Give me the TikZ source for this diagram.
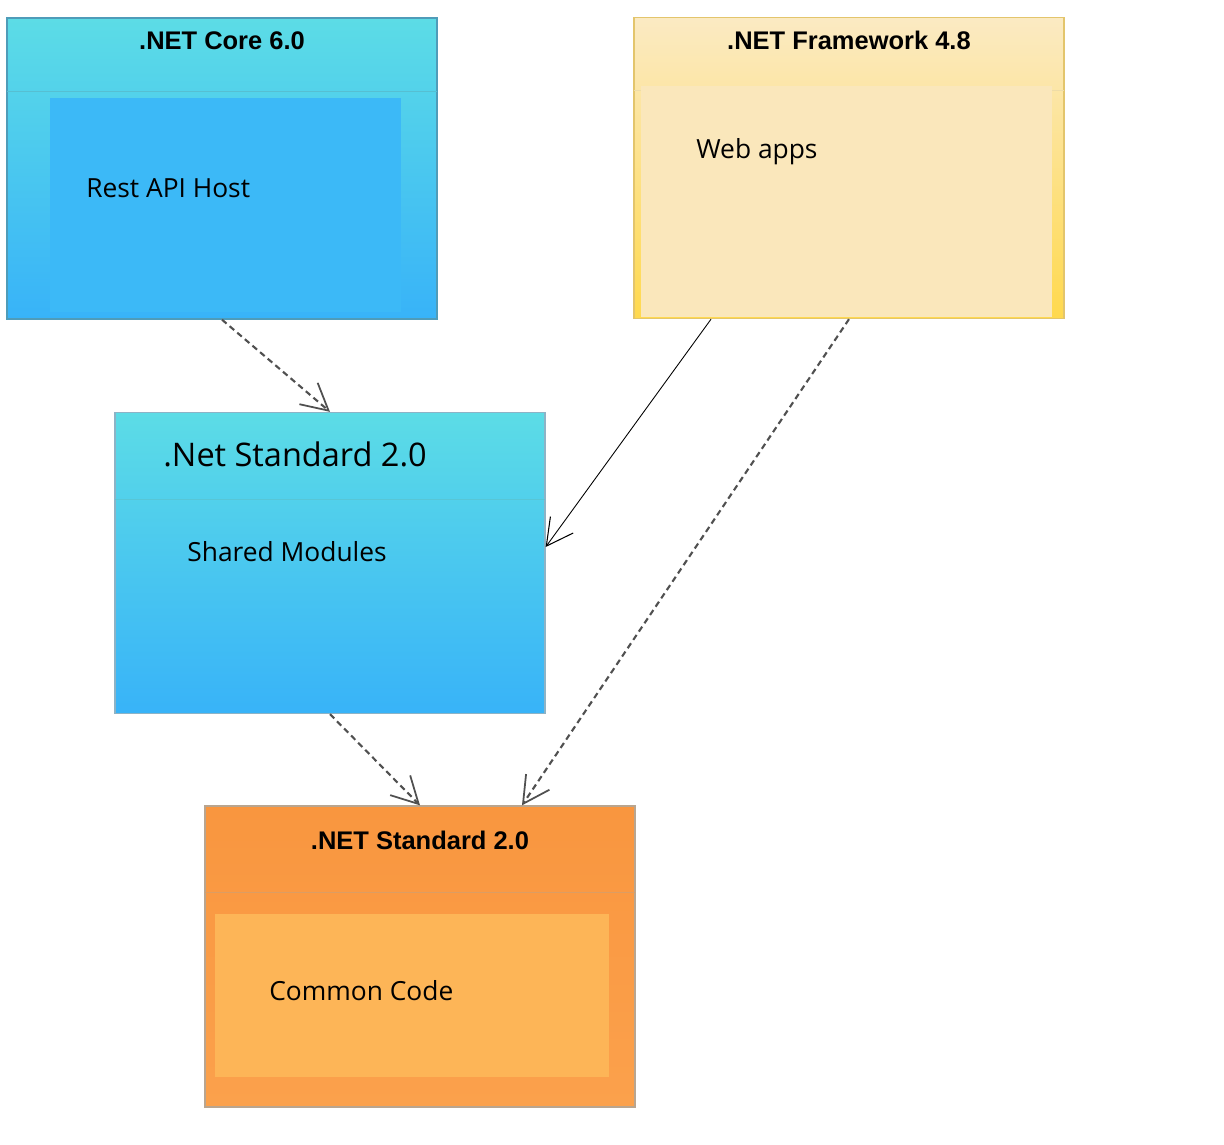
\documentclass[tikz,border=0pt]{standalone}
\usepackage{fontspec}
\setmainfont{Open Sans}
\newfontfamily\headfont{Liberation Sans}
\usetikzlibrary{arrows.meta}

\definecolor{coretop}{HTML}{5CDCE6}
\definecolor{corebot}{HTML}{38B3F8}
\definecolor{coreline}{HTML}{4F9CB9}
\definecolor{coreinner}{HTML}{3CB9F7}
\definecolor{fwtop}{HTML}{FBEAC3}
\definecolor{fwbot}{HTML}{FFD94E}
\definecolor{fwline}{HTML}{E3C56C}
\definecolor{fwinner}{HTML}{FAE7BB}
\definecolor{stdline}{HTML}{8DB3C6}
\definecolor{comtop}{HTML}{F9963F}
\definecolor{combot}{HTML}{FBA14C}
\definecolor{comline}{HTML}{B9A58F}
\definecolor{cominner}{HTML}{FDB557}
\definecolor{depline}{HTML}{505050}

\tikzset{
  pkgbox/.style={rectangle, minimum width=8.6cm, minimum height=6.02cm, inner sep=0pt, line width=0.8pt},
  pkgtitle/.style={font=\headfont\bfseries\fontsize{14.5}{16}\selectfont, inner sep=0pt, anchor=base},
  pkglabel/.style={font=\fontsize{15}{18}\selectfont, inner sep=0pt, anchor=base west},
  dep/.style={depline, line width=1.2pt, dash pattern=on 3.4pt off 2.3pt,
    -{Straight Barb[length=15pt, width=16pt, line width=1pt]}},
  assoc/.style={black, line width=0.5pt, -{Straight Barb[length=15pt, width=16pt, line width=0.6pt]}},
}

\begin{document}
\begin{tikzpicture}[x=0.02cm, y=-0.02cm]
  \useasboundingbox (0,0) rectangle (1224,1144);

  % .NET Core 6.0 package
  \node[pkgbox, draw=coreline, top color=coretop, bottom color=corebot] (core) at (222,168.5) {};
  \draw[coreline!45!coretop] (7,91) -- (437,91);
  \fill[coreinner] (50,98) rectangle (401,312);
  \node[pkgtitle] (coretitle) at (222,49) {.NET Core 6.0};
  \node[pkglabel] (corelabel) at (86,197) {Rest API Host};

  % .NET Framework 4.8 package
  \node[pkgbox, draw=fwline, top color=fwtop, bottom color=fwbot] (fw) at (849,168) {};
  \draw[fwline!60] (634,90) -- (1064,90);
  \fill[fwinner] (641,86) rectangle (1052,317);
  \node[pkgtitle] (fwtitle) at (849,49) {.NET Framework 4.8};
  \node[pkglabel] (fwlabel) at (696,158) {Web apps};

  % .Net Standard 2.0 (shared)
  \node[pkgbox, draw=stdline, top color=coretop, bottom color=corebot] (std) at (330,563) {};
  \draw[coreline!35!coretop] (115,499) -- (545,499);
  \node[pkglabel, font=\fontsize{18.5}{22}\selectfont] (stdtitle) at (163,466) {.Net Standard 2.0};
  \node[pkglabel] (stdlabel) at (187,561) {Shared Modules};

  % .NET Standard 2.0 (common)
  \node[pkgbox, draw=comline, top color=comtop, bottom color=combot] (com) at (420,956.5) {};
  \draw[comline!45!comtop] (205,892) -- (635,892);
  \fill[cominner] (215,914) rectangle (609,1077);
  \node[pkgtitle] (comtitle) at (420,849) {.NET Standard 2.0};
  \node[pkglabel] (comlabel) at (269,1000) {Common Code};

  % Dependencies
  \draw[dep] (core.south) -- (std.north);
  \draw[assoc] ([xshift=-2.76cm]fw.south) -- ([yshift=0.32cm]std.east);
  \draw[dep] (fw.south) -- ([xshift=2.04cm]com.north);
  \draw[dep] (std.south) -- (com.north);

\end{tikzpicture}
\end{document}
